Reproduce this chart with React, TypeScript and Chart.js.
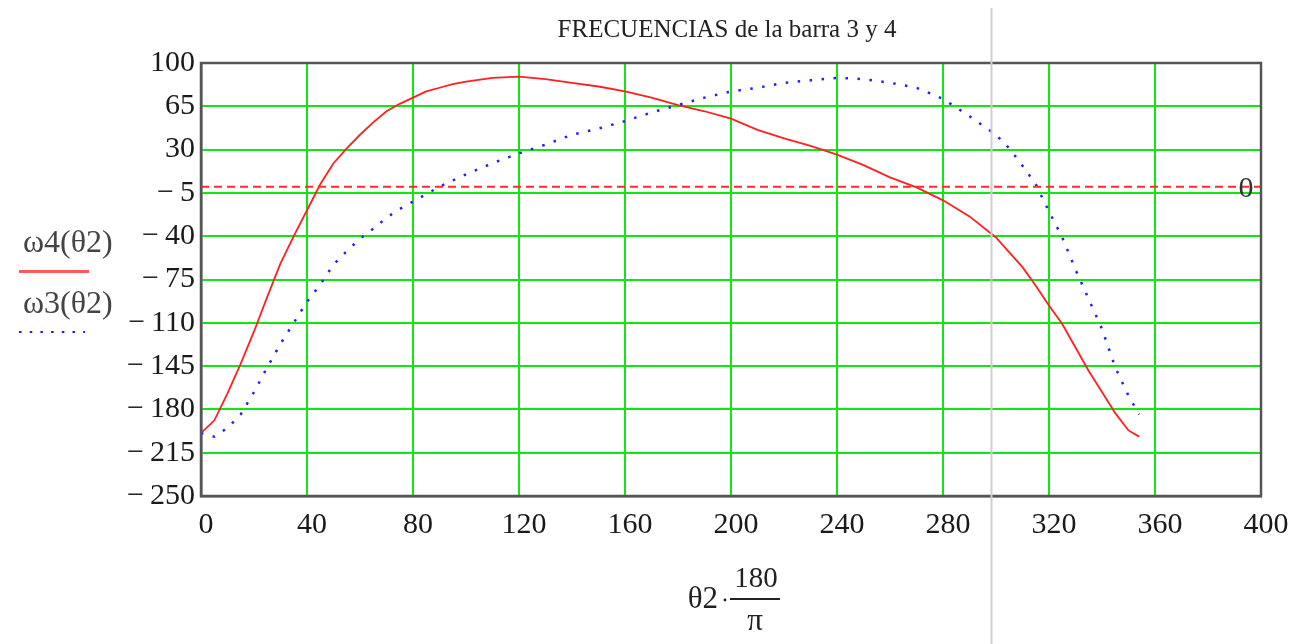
import React, { useEffect, useRef } from "react";
import { Chart, registerables } from "chart.js";

Chart.register(...registerables);

// θ2 in degrees (shared sample positions)
const theta = [
  0, 5, 10, 15, 20, 25, 30, 35, 40, 45, 50, 55, 60, 65, 70, 75, 80, 85, 90, 95,
  100, 110, 120, 130, 140, 150, 160, 170, 180, 190, 200, 210, 220, 230, 240, 250,
  260, 270, 280, 290, 300, 305, 310, 315, 320, 325, 330, 335, 340, 345, 350, 354,
];

// ω4(θ2) – solid red
const omega4 = [
  -199, -189, -167, -143, -117, -89, -62, -40, -19, 2, 19, 31, 42, 52, 61, 67, 72, 77, 80, 83,
  85, 88, 89, 87, 84, 81, 77, 72, 66, 61, 55, 46, 39, 33, 26, 17.5,
  7.5, -0.5, -11, -24, -41, -53, -65, -80, -96, -111, -130, -149, -166, -183, -197, -202,
];

// ω3(θ2) – dotted blue
const omega3 = [
  -199, -202, -195, -184, -166, -146, -127, -110, -93, -79, -63, -52, -42, -34, -25, -18, -12, -6, 0, 5,
  10, 19, 27, 34, 42, 47, 53, 60, 66, 72, 77, 80, 84, 86, 88, 87,
  84, 80, 71, 57, 42, 31, 17, 2, -20, -41, -67, -91, -115, -146, -169, -184,
];

// horizontal marker line at 0
const zeroLineX = [0, 400];
const zeroLineY = [0, 0];

const xTicks = [0, 40, 80, 120, 160, 200, 240, 280, 320, 360, 400];
const yTicks = [100, 65, 30, -5, -40, -75, -110, -145, -180, -215, -250];

const cursorX = 298;

const titleText = "FRECUENCIAS de la barra 3 y 4";
const legendLabels = ["ω4(θ2)", "ω3(θ2)"];

const SERIF = "'Liberation Serif', 'DejaVu Serif', serif";

const fmt = (v: number) => (v < 0 ? "\u2212\u2009" + Math.abs(v) : String(v));

export default function App() {
  const ref = useRef<HTMLCanvasElement | null>(null);

  useEffect(() => {
    if (!ref.current) return;

    const annotations = {
      id: "mathcadDecor",
      afterDraw(chart: any) {
        const { ctx, chartArea } = chart;
        const xs = chart.scales.x;
        const ys = chart.scales.y;
        const { left, right, top, bottom } = chartArea;
        const cx = (left + right) / 2;
        ctx.save();

        // frame
        ctx.strokeStyle = "#555";
        ctx.lineWidth = 2.5;
        ctx.strokeRect(left, top, right - left, bottom - top);

        // "0" label of marker
        ctx.fillStyle = "#333";
        ctx.font = `30px ${SERIF}`;
        ctx.textAlign = "center";
        ctx.textBaseline = "middle";
        ctx.fillText("0", right - 15, ys.getPixelForValue(0) + 2);

        // title
        ctx.fillStyle = "#222";
        ctx.font = `25px ${SERIF}`;
        ctx.textAlign = "center";
        ctx.textBaseline = "middle";
        ctx.fillText(titleText, cx - 4, 30);

        // legend on the left
        ctx.fillStyle = "#444";
        ctx.font = `32px ${SERIF}`;
        ctx.textAlign = "left";
        ctx.textBaseline = "middle";
        ctx.fillText(legendLabels[0], 23, 244);
        ctx.fillText(legendLabels[1], 23, 305);

        ctx.strokeStyle = "#ff5a5a";
        ctx.lineWidth = 3;
        ctx.setLineDash([]);
        ctx.beginPath();
        ctx.moveTo(19, 271.5);
        ctx.lineTo(89, 271.5);
        ctx.stroke();

        ctx.strokeStyle = "#1a1aff";
        ctx.lineWidth = 2;
        ctx.setLineDash([2.5, 8.2]);
        ctx.beginPath();
        ctx.moveTo(19, 332);
        ctx.lineTo(85, 332);
        ctx.stroke();
        ctx.setLineDash([]);

        // x-axis title: θ2·180/π
        ctx.fillStyle = "#222";
        ctx.font = `31px ${SERIF}`;
        ctx.textAlign = "right";
        ctx.textBaseline = "middle";
        ctx.fillText("θ2", cx - 13, 600);
        ctx.beginPath();
        ctx.arc(cx - 6, 600, 1.4, 0, Math.PI * 2);
        ctx.fill();
        ctx.font = `29px ${SERIF}`;
        ctx.textAlign = "center";
        ctx.fillText("180", cx + 25, 579);
        ctx.font = `31px ${SERIF}`;
        ctx.fillText("π", cx + 24, 622);
        ctx.strokeStyle = "#222";
        ctx.lineWidth = 2;
        ctx.beginPath();
        ctx.moveTo(cx - 1, 599);
        ctx.lineTo(cx + 49, 599);
        ctx.stroke();

        // grey cursor line
        const gx = Math.round(xs.getPixelForValue(cursorX)) + 0.5;
        ctx.strokeStyle = "#cfcfcf";
        ctx.lineWidth = 2;
        ctx.beginPath();
        ctx.moveTo(gx, 8);
        ctx.lineTo(gx, chart.height);
        ctx.stroke();

        ctx.restore();
      },
    };

    const gridColor = (edgeA: number, edgeB: number) => (c: any) =>
      c.tick && (c.tick.value === edgeA || c.tick.value === edgeB) ? "rgba(0,0,0,0)" : "#12e612";

    const chart = new Chart(ref.current, {
      type: "line",
      data: {
        datasets: [
          {
            label: "0",
            data: zeroLineX.map((x, i) => ({ x, y: zeroLineY[i] })),
            borderColor: "#ff2a2a",
            borderWidth: 2,
            borderDash: [8, 5],
            pointRadius: 0,
          },
          {
            label: legendLabels[1],
            data: theta.map((x, i) => ({ x, y: omega3[i] })),
            borderColor: "#2020ff",
            borderWidth: 2.5,
            borderDash: [2.5, 9.5],
            pointRadius: 0,
            tension: 0,
          },
          {
            label: legendLabels[0],
            data: theta.map((x, i) => ({ x, y: omega4[i] })),
            borderColor: "#ff2020",
            borderWidth: 1.8,
            pointRadius: 0,
            tension: 0,
          },
        ],
      },
      options: {
        animation: false,
        responsive: false,
        layout: { padding: { left: 0, right: 38, top: 63, bottom: 0 } },
        plugins: {
          legend: { display: false },
          title: { display: false },
          tooltip: { enabled: false },
        },
        scales: {
          x: {
            type: "linear",
            min: 0,
            max: 400,
            afterBuildTicks: (s: any) => {
              s.ticks = xTicks.map((v) => ({ value: v }));
            },
            afterFit: (s: any) => {
              s.height = 148;
            },
            grid: { color: gridColor(0, 400), lineWidth: 2, drawTicks: false },
            border: { display: true, color: "#555", width: 2.5 },
            ticks: {
              font: { family: SERIF, size: 30 },
              color: "#1a1a1a",
              padding: 11,
              labelOffset: 5,
              maxRotation: 0,
              autoSkip: false,
              callback: (v: any) => String(v),
            },
          },
          y: {
            type: "linear",
            min: -250,
            max: 100,
            afterBuildTicks: (s: any) => {
              s.ticks = yTicks.map((v) => ({ value: v }));
            },
            afterFit: (s: any) => {
              s.width = 201;
            },
            grid: { color: gridColor(-250, 100), lineWidth: 2, drawTicks: false },
            border: { display: true, color: "#555", width: 2.5 },
            ticks: {
              font: { family: SERIF, size: 30 },
              color: "#1a1a1a",
              padding: 6,
              autoSkip: false,
              callback: (v: any) => fmt(Number(v)),
            },
          },
        },
      },
      plugins: [annotations],
    });

    return () => chart.destroy();
  }, []);

  return (
    <div style={{ position: "absolute", left: 0, top: 0, width: 1299, height: 644, background: "#fff" }}>
      <canvas ref={ref} width={1299} height={644} style={{ display: "block" }} />
    </div>
  );
}
